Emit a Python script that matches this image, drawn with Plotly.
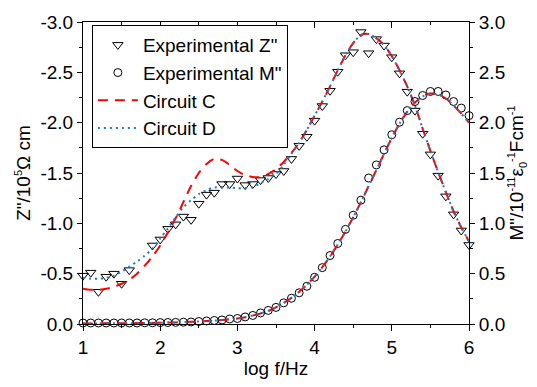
import plotly.graph_objects as go

# ---------------- data ----------------
# Experimental Z'' (values in 10^5 ohm cm, negative)
z_exp_logf = [1.0, 1.1, 1.2, 1.3, 1.4, 1.5, 1.6, 1.9, 2.0, 2.1, 2.2, 2.3, 2.4, 2.5,
              2.6, 2.7, 2.8, 2.9, 3.0, 3.1, 3.2, 3.3, 3.4, 3.5, 3.6, 3.7, 3.8, 3.9,
              4.0, 4.1, 4.2, 4.3, 4.4, 4.5, 4.6, 4.7, 4.8, 4.9, 5.0, 5.1, 5.2, 5.3,
              5.4, 5.5, 5.6, 5.7, 5.8, 5.9, 6.0]
z_exp = [-0.48, -0.51, -0.32, -0.47, -0.50, -0.40, -0.535, -0.78, -0.84, -0.945, -0.99,
         -1.067, -1.035, -1.195, -1.285, -1.305, -1.39, -1.39, -1.445, -1.38, -1.39,
         -1.43, -1.45, -1.49, -1.52, -1.64, -1.77, -1.86, -2.02, -2.165, -2.317,
         -2.506, -2.67, -2.70, -2.90, -2.69, -2.83, -2.766, -2.65, -2.49, -2.308,
         -2.12, -1.89, -1.685, -1.474, -1.268, -1.089, -0.929, -0.785]

# Experimental M'' (10^-11 eps0^-1 F cm^-1)
m_exp_logf = [1.0, 1.1, 1.2, 1.3, 1.4, 1.5, 1.6, 1.7, 1.8, 1.9, 2.0, 2.1, 2.2, 2.3,
              2.4, 2.5, 2.6, 2.7, 2.8, 2.9, 3.0, 3.1, 3.2, 3.3, 3.4, 3.5, 3.6, 3.7,
              3.8, 3.9, 4.0, 4.1, 4.2, 4.3, 4.4, 4.5, 4.6, 4.7, 4.8, 4.9, 5.0, 5.1,
              5.2, 5.3, 5.4, 5.5, 5.6, 5.7, 5.8, 5.9, 6.0]
m_exp = [0.01, 0.01, 0.01, 0.01, 0.01, 0.01, 0.01, 0.01, 0.012, 0.012, 0.014, 0.015,
         0.016, 0.018, 0.02, 0.025, 0.03, 0.035, 0.04, 0.05, 0.055, 0.07, 0.085,
         0.11, 0.135, 0.165, 0.21, 0.256, 0.31, 0.375, 0.464, 0.56, 0.68, 0.80,
         0.94, 1.08, 1.23, 1.45, 1.58, 1.73, 1.88, 2.005, 2.12, 2.21, 2.27, 2.31,
         2.31, 2.275, 2.21, 2.145, 2.07]

# fitted curves (sampled every 0.1 decade)
fit_logf = [1.0, 1.1, 1.2, 1.3, 1.4, 1.5, 1.6, 1.7, 1.8, 1.9, 2.0, 2.1, 2.2, 2.3,
            2.4, 2.5, 2.6, 2.7, 2.8, 2.9, 3.0, 3.1, 3.2, 3.3, 3.4, 3.5, 3.6, 3.7,
            3.8, 3.9, 4.0, 4.1, 4.2, 4.3, 4.4, 4.5, 4.6, 4.7, 4.8, 4.9, 5.0, 5.1,
            5.2, 5.3, 5.4, 5.5, 5.6, 5.7, 5.8, 5.9, 6.0]
z_circuit_c = [-0.35, -0.34, -0.34, -0.35, -0.37, -0.40, -0.44, -0.50, -0.58, -0.67,
               -0.78, -0.91, -1.05, -1.21, -1.37, -1.50, -1.59, -1.64, -1.63, -1.58,
               -1.52, -1.48, -1.46, -1.46, -1.49, -1.54, -1.61, -1.70, -1.80, -1.93,
               -2.07, -2.21, -2.36, -2.52, -2.67, -2.79, -2.87, -2.88, -2.84, -2.77,
               -2.66, -2.52, -2.36, -2.17, -1.94, -1.72, -1.51, -1.31, -1.12, -0.96,
               -0.82]
z_circuit_d = [-0.46, -0.45, -0.45, -0.46, -0.48, -0.52, -0.57, -0.62, -0.68, -0.75,
               -0.85, -0.95, -1.06, -1.16, -1.23, -1.29, -1.33, -1.355, -1.36, -1.355,
               -1.35, -1.35, -1.36, -1.40, -1.44, -1.49, -1.58, -1.69, -1.80, -1.93,
               -2.07, -2.21, -2.36, -2.52, -2.67, -2.79, -2.87, -2.88, -2.84, -2.77,
               -2.66, -2.52, -2.36, -2.17, -1.94, -1.72, -1.51, -1.31, -1.12, -0.96,
               -0.82]
m_circuit_c = [0.005, 0.006, 0.006, 0.007, 0.007, 0.008, 0.008, 0.009, 0.010, 0.011,
               0.012, 0.014, 0.016, 0.019, 0.022, 0.025, 0.029, 0.034, 0.040, 0.047,
               0.055, 0.068, 0.085, 0.105, 0.13, 0.165, 0.21, 0.26, 0.32, 0.39, 0.47,
               0.565, 0.67, 0.79, 0.92, 1.06, 1.21, 1.37, 1.53, 1.69, 1.85, 1.99, 2.11,
               2.20, 2.26, 2.29, 2.28, 2.24, 2.17, 2.09, 2.00]
m_circuit_d = [0.005, 0.006, 0.006, 0.007, 0.007, 0.008, 0.008, 0.009, 0.010, 0.011,
               0.012, 0.014, 0.016, 0.019, 0.022, 0.025, 0.029, 0.034, 0.040, 0.047,
               0.055, 0.068, 0.085, 0.105, 0.13, 0.165, 0.21, 0.26, 0.32, 0.39, 0.47,
               0.565, 0.67, 0.79, 0.92, 1.06, 1.21, 1.37, 1.53, 1.69, 1.85, 1.99, 2.11,
               2.20, 2.26, 2.29, 2.28, 2.24, 2.17, 2.09, 2.00]

x_ticks = [1, 2, 3, 4, 5, 6]
z_ticks = [0, -0.5, -1.0, -1.5, -2.0, -2.5, -3.0]
z_ticktext = ["0.0", "-0.5", "-1.0", "-1.5", "-2.0", "-2.5", "-3.0"]
m_ticks = [0, 0.5, 1.0, 1.5, 2.0, 2.5, 3.0]
m_ticktext = ["0.0", "0.5", "1.0", "1.5", "2.0", "2.5", "3.0"]

# ---------------- styling ----------------
FONT = "Liberation Sans, Arial, sans-serif"
FS = 19
RED = "#ff0000"
BLUE = "#1f7bc0"

def small(t):
    return '<span style="font-size:11px">' + t + '</span>'

m_title = ('M"/10<sup>' + small('-11') + '</sup>ε<sub>' + small('0') + '</sub><sup>'
           + small('-1') + '</sup>Fcm<sup>' + small('-1') + '</sup>')
z_title = 'Z"/10<sup>' + small('5') + '</sup>Ω cm'

fig = go.Figure()

fig.add_trace(go.Scatter(
    x=z_exp_logf, y=z_exp, mode="markers", name='Experimental Z"',
    marker=dict(symbol="triangle-down-open", size=9, color="black", line=dict(width=1)),
    cliponaxis=False, yaxis="y", legendrank=1))
fig.add_trace(go.Scatter(
    x=m_exp_logf, y=m_exp, mode="markers", name='Experimental M"',
    marker=dict(symbol="circle-open", size=8, color="black", line=dict(width=1)),
    cliponaxis=False, yaxis="y2", legendrank=2))

fig.add_trace(go.Scatter(
    x=fit_logf, y=z_circuit_c, mode="lines", name="Circuit C", legendgroup="C",
    line=dict(color=RED, width=2, dash="10px,7px", shape="spline", smoothing=0.8),
    yaxis="y", legendrank=3))
fig.add_trace(go.Scatter(
    x=fit_logf, y=m_circuit_c, mode="lines", name="Circuit C", legendgroup="C",
    showlegend=False,
    line=dict(color=RED, width=2, dash="10px,7px", shape="spline", smoothing=0.8),
    yaxis="y2"))
fig.add_trace(go.Scatter(
    x=fit_logf, y=z_circuit_d, mode="lines", name="Circuit D", legendgroup="D",
    line=dict(color=BLUE, width=2, dash="2px,4px", shape="spline", smoothing=0.8),
    yaxis="y", legendrank=4))
fig.add_trace(go.Scatter(
    x=fit_logf, y=m_circuit_d, mode="lines", name="Circuit D", legendgroup="D",
    showlegend=False,
    line=dict(color=BLUE, width=2, dash="2px,4px", shape="spline", smoothing=0.8),
    yaxis="y2"))
# dummy trace to activate the top axis
fig.add_trace(go.Scatter(x=[None], y=[None], xaxis="x2", yaxis="y",
                         showlegend=False, hoverinfo="skip"))

axis_common = dict(showline=True, linecolor="black", linewidth=1, showgrid=False,
                   zeroline=False, tickcolor="black", tickwidth=1,
                   tickfont=dict(family=FONT, size=FS, color="black"))

fig.update_layout(
    width=537, height=387,
    margin=dict(l=83, r=68, t=16, b=59),
    paper_bgcolor="white", plot_bgcolor="white",
    font=dict(family=FONT, size=FS, color="black"),
    xaxis=dict(range=[1, 6], tickmode="array", tickvals=x_ticks,
               ticks="outside", ticklen=6,
               minor=dict(dtick=0.5, tick0=1, ticks="outside", ticklen=3,
                          tickcolor="black"),
               title=dict(text="log f/Hz", font=dict(family=FONT, size=FS), standoff=4),
               **axis_common),
    xaxis2=dict(range=[1, 6], overlaying="x", side="top", tickmode="array",
                tickvals=x_ticks, ticks="inside", ticklen=6, showticklabels=False,
                minor=dict(dtick=0.5, tick0=1, ticks="inside", ticklen=3,
                           tickcolor="black"),
                **axis_common),
    yaxis=dict(range=[0, -3], tickmode="array", tickvals=z_ticks, ticktext=z_ticktext,
               ticks="outside", ticklen=5,
               minor=dict(dtick=0.25, tick0=0, ticks="outside", ticklen=3,
                          tickcolor="black"),
               title=dict(text=z_title, font=dict(family=FONT, size=FS), standoff=4),
               **axis_common),
    yaxis2=dict(range=[0, 3], overlaying="y", side="right", tickmode="array",
                tickvals=m_ticks, ticktext=m_ticktext,
                ticks="outside", ticklen=5,
                minor=dict(dtick=0.25, tick0=0, ticks="outside", ticklen=3,
                           tickcolor="black"),
                title=dict(text=m_title, font=dict(family=FONT, size=FS), standoff=2),
                **axis_common),
    legend=dict(x=0.023, y=0.99, xanchor="left", yanchor="top",
                bgcolor="white", bordercolor="black", borderwidth=1,
                font=dict(family=FONT, size=FS, color="black"),
                tracegroupgap=0, itemwidth=40, traceorder="normal"),
    showlegend=True,
)

fig.write_html("out.html")
